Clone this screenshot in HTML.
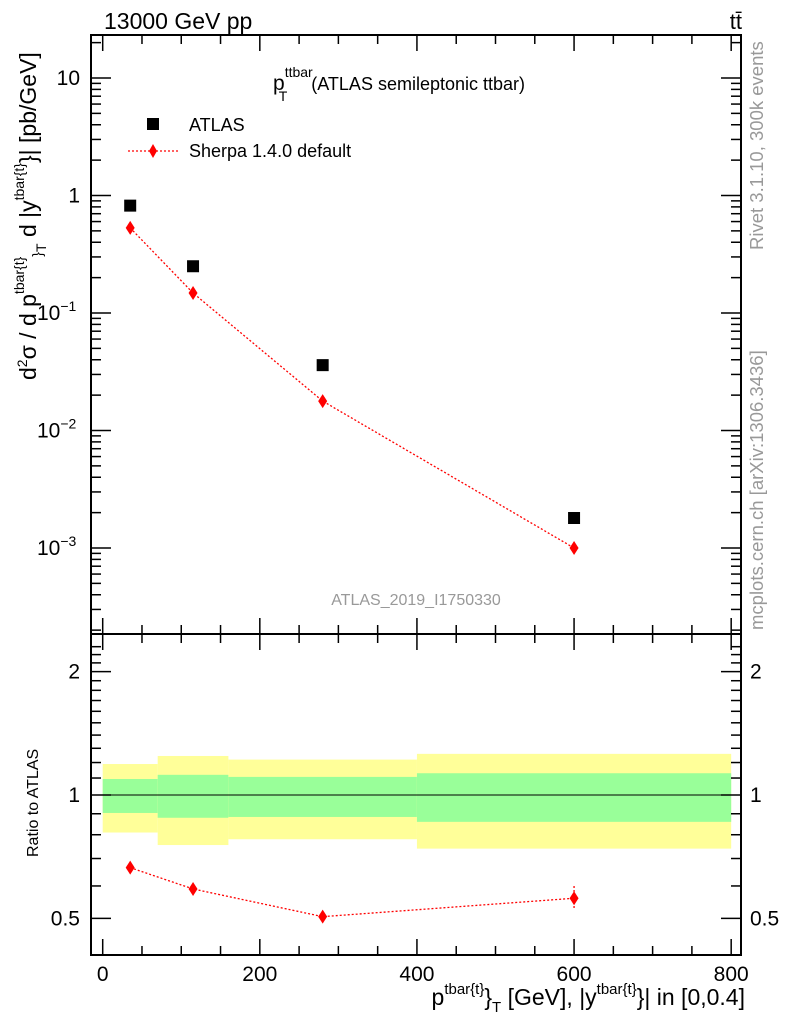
<!DOCTYPE html>
<html><head><meta charset="utf-8"><style>
body{margin:0;background:#fff;}
svg text{font-family:"Liberation Sans",sans-serif;}
</style></head><body>
<svg id="chart" width="786" height="1024" xmlns="http://www.w3.org/2000/svg">
<g id="top-panel"></g>
<g id="bot-panel"></g>
<text x="104" y="29" font-size="23">13000 GeV pp</text>
<text x="742" y="29" font-size="22" text-anchor="end">tt̄</text>
<text x="273" y="90" font-size="21">p<tspan dy="-13" font-size="14">ttbar</tspan><tspan dx="-34" dy="24" font-size="14">T</tspan><tspan dx="24" dy="-11" font-size="18">(ATLAS semileptonic ttbar)</tspan></text>
<rect x="147" y="118" width="12" height="12" fill="#000"/>
<text x="189" y="131" font-size="18">ATLAS</text>
<line x1="128" y1="151" x2="178" y2="151" stroke="red" stroke-width="1.3" stroke-dasharray="2,2"/>
<path d="M153 144 L157 151 L153 158 L149 151Z" fill="red"/>
<text x="189" y="157" font-size="18">Sherpa 1.4.0 default</text>
<text x="416" y="605" font-size="16" fill="#999" text-anchor="middle">ATLAS_2019_I1750330</text>
<text transform="translate(763,250) rotate(-90)" font-size="18.5" fill="#999">Rivet 3.1.10,  300k events</text>
<text transform="translate(763,630) rotate(-90)" font-size="18.5" fill="#999">mcplots.cern.ch [arXiv:1306.3436]</text>
<text transform="translate(36,380) rotate(-90)" font-size="23">d<tspan dy="-9" font-size="14">2</tspan><tspan dy="9">σ / d p</tspan><tspan dy="-12" font-size="14">tbar{t}</tspan><tspan dy="18" font-size="14">}</tspan><tspan dy="4" font-size="14">T</tspan><tspan dy="-10"> d |y</tspan><tspan dy="-12" font-size="14">tbar{t}</tspan><tspan dy="12">}| [pb/GeV]</tspan></text>
<text transform="translate(38,857) rotate(-90)" font-size="16">Ratio to ATLAS</text>
<text x="745" y="1005" font-size="23" text-anchor="end">p<tspan dy="-11" font-size="15">tbar{t}</tspan><tspan dy="11">}</tspan><tspan dy="7" font-size="15">T</tspan><tspan dy="-7"> [GeV], |y</tspan><tspan dy="-11" font-size="15">tbar{t}</tspan><tspan dy="11">}| in [0,0.4]</tspan></text>
</svg>
<script>
const binEdges=[0,70,160,400,800];
const xCenters=[35,115,280,600];
const atlasVals=[0.82,0.25,0.036,0.0018];
const sherpaVals=[0.53,0.148,0.0178,0.001];
const ratioVals=[0.665,0.59,0.505,0.56];
const ratioErrLo=[0.0,0.0,0.0,0.53];
const ratioErrHi=[0.0,0.0,0.0,0.60];
const bandYelHi=[1.19,1.245,1.22,1.26];
const bandYelLo=[0.81,0.755,0.78,0.74];
const bandGrnHi=[1.094,1.12,1.107,1.13];
const bandGrnLo=[0.904,0.88,0.884,0.86];
const xTicks=[0,200,400,600,800];
const yTicksTop=[{v:10,t:"10"},{v:1,t:"1"},{v:0.1,t:"10",e:"−1"},{v:0.01,t:"10",e:"−2"},{v:0.001,t:"10",e:"−3"}];
const rTicks=[{v:2,t:"2"},{v:1,t:"1"},{v:0.5,t:"0.5"}];

const NS="http://www.w3.org/2000/svg";
const L=91,R=741,T=35,M=634,B=955;
const X=v=>102.7+v*0.7856;
const Y=v=>195.5-Math.log10(v)*117.5;
const YR=v=>795-Math.log10(v)*410;
function mk(p,tag,a){const e=document.createElementNS(NS,tag);for(const k in a)e.setAttribute(k,a[k]);p.appendChild(e);return e;}
const topP=document.getElementById('top-panel'),bot=document.getElementById('bot-panel');

for(let i=0;i<4;i++){
 let r=mk(bot,'rect',{x:X(binEdges[i]),y:YR(bandYelHi[i]),width:X(binEdges[i+1])-X(binEdges[i]),height:YR(bandYelLo[i])-YR(bandYelHi[i]),fill:'#ffff99'});
 
 
 let g=mk(bot,'rect',{x:X(binEdges[i]),y:YR(bandGrnHi[i]),width:X(binEdges[i+1])-X(binEdges[i]),height:YR(bandGrnLo[i])-YR(bandGrnHi[i]),fill:'#99ff99'});
 
 
}
let ul=mk(bot,'line',{x1:L,x2:R,y1:YR(1),y2:YR(1),stroke:'#000','stroke-width':1});



for(const [p,y1,y2] of [[topP,T,M],[bot,M,B]]){
 let f=mk(p,'rect',{x:L,y:y1,width:R-L,height:y2-y1,fill:'none',stroke:'#000','stroke-width':2});
 
 
}
for(let v=0;v<=800;v+=50){
 const big=v%200===0, len=big?16:9;
 for(const [y0,d] of [[M,-1],[T,1],[B,-1]]){
  mk(topP,'line',{x1:X(v),x2:X(v),y1:y0,y2:y0+d*len,stroke:'#000','stroke-width':1.5});
 }
 mk(topP,'line',{x1:X(v),x2:X(v),y1:M,y2:M+(big?16:9),stroke:'#000','stroke-width':1.5});
}
xTicks.forEach(v=>{let t=mk(bot,'text',{x:X(v),y:981,'font-size':21,'text-anchor':'middle'});t.textContent=v;
 
 });
for(let d=-4;d<=1;d++)for(let m=1;m<10;m++){
 const v=m*Math.pow(10,d),y=Y(v);if(y<T||y>M)continue;
 const len=m===1?20:10;
 mk(topP,'line',{x1:L,x2:L+len,y1:y,y2:y,stroke:'#000','stroke-width':1.5});
 mk(topP,'line',{x1:R,x2:R-len,y1:y,y2:y,stroke:'#000','stroke-width':1.5});
}
yTicksTop.forEach(o=>{let t=mk(topP,'text',{x:80,y:Y(o.v)+7,'font-size':21,'text-anchor':'end'});
 t.textContent=o.t;
 if(o.e){const s=mk(t,'tspan',{dy:-9,'font-size':14});s.textContent=o.e;t.setAttribute('text-anchor','start');t.setAttribute('x',37);}
 
 });
for(let k=4;k<=23;k++){const v=k/10,y=YR(v);if(y<M||y>B)continue;
 const big=(k===5||k===10||k===20),len=big?20:10;
 mk(bot,'line',{x1:L,x2:L+len,y1:y,y2:y,stroke:'#000','stroke-width':1.5});
 mk(bot,'line',{x1:R,x2:R-len,y1:y,y2:y,stroke:'#000','stroke-width':1.5});}
rTicks.forEach(o=>{for(const [x,a] of [[80,'end'],[750,'start']]){let t=mk(bot,'text',{x:x,y:YR(o.v)+7,'font-size':21,'text-anchor':a});t.textContent=o.t;
 
 }});

function diamond(p,x,y,name){let d=mk(p,'path',{d:`M${x} ${y-7}L${x+4.5} ${y}L${x} ${y+7}L${x-4.5} ${y}Z`,fill:'red'});
 
 }
let sl=mk(topP,'polyline',{points:xCenters.map((x,i)=>X(x)+','+Y(sherpaVals[i])).join(' '),fill:'none',stroke:'red','stroke-width':1.3,'stroke-dasharray':'2,2'});


xCenters.forEach((x,i)=>{
 let s=mk(topP,'rect',{x:X(x)-6,y:Y(atlasVals[i])-6,width:12,height:12,fill:'#000'});
 
 
 diamond(topP,X(x),Y(sherpaVals[i]),'sherpa-point');
});
let rl=mk(bot,'polyline',{points:xCenters.map((x,i)=>X(x)+','+YR(ratioVals[i])).join(' '),fill:'none',stroke:'red','stroke-width':1.3,'stroke-dasharray':'2,2'});


xCenters.forEach((x,i)=>{
 if(ratioErrHi[i]>0){let e=mk(bot,'line',{x1:X(x),x2:X(x),y1:YR(ratioErrHi[i]),y2:YR(ratioErrLo[i]),stroke:'red','stroke-width':1.3,'stroke-dasharray':'2,2'});
 
 }
 diamond(bot,X(x),YR(ratioVals[i]),'ratio-point');
});
</script>
</body></html>
